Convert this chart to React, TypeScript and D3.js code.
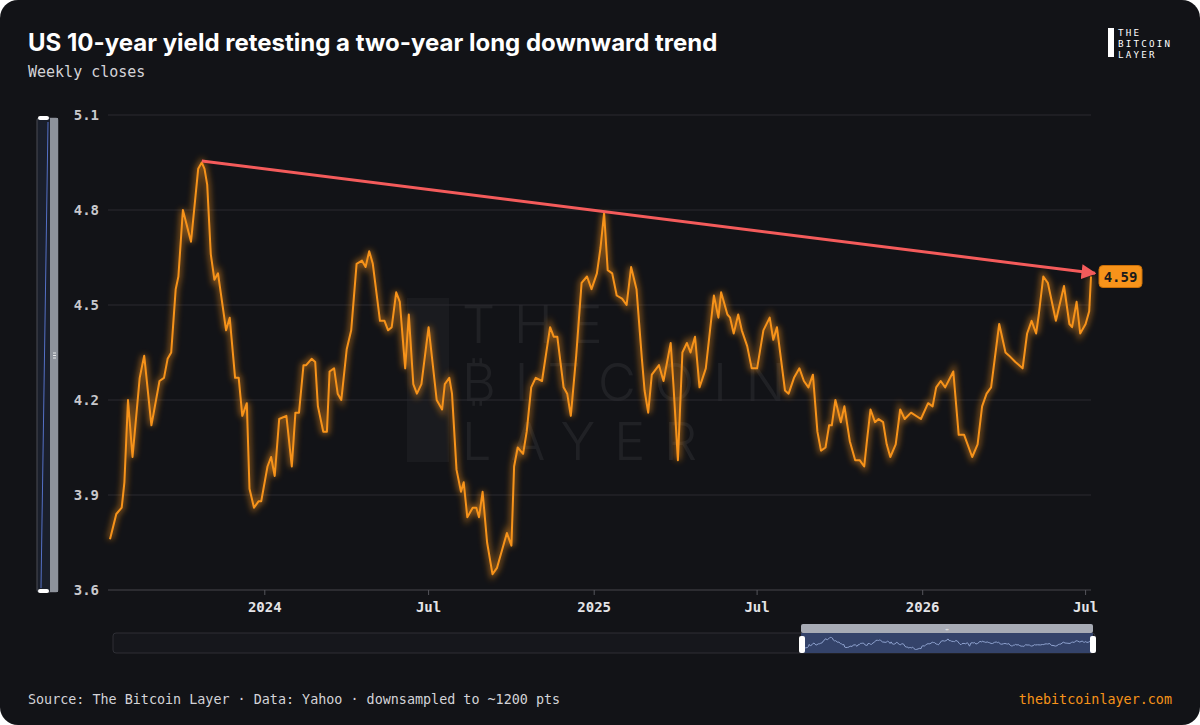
import React from "react";
import * as d3 from "d3";

// weekly closes
const dates = [
  "2023-07-13", "2023-07-20", "2023-07-26", "2023-07-29", "2023-08-02", "2023-08-07", "2023-08-15", "2023-08-20",
  "2023-08-28", "2023-09-06", "2023-09-11", "2023-09-15", "2023-09-19", "2023-09-24", "2023-09-27", "2023-10-02",
  "2023-10-11", "2023-10-19", "2023-10-23", "2023-10-26", "2023-10-29", "2023-11-02", "2023-11-06", "2023-11-10",
  "2023-11-19", "2023-11-23", "2023-11-29", "2023-12-03", "2023-12-07", "2023-12-12", "2023-12-15", "2023-12-20",
  "2023-12-25", "2023-12-28", "2024-01-04", "2024-01-08", "2024-01-12", "2024-01-17", "2024-01-25", "2024-01-31",
  "2024-02-04", "2024-02-08", "2024-02-13", "2024-02-16", "2024-02-22", "2024-02-26", "2024-02-29", "2024-03-06",
  "2024-03-10", "2024-03-13", "2024-03-18", "2024-03-22", "2024-03-26", "2024-04-01", "2024-04-06", "2024-04-12",
  "2024-04-18", "2024-04-22", "2024-04-26", "2024-04-30", "2024-05-08", "2024-05-13", "2024-05-17", "2024-05-21",
  "2024-05-26", "2024-05-30", "2024-06-05", "2024-06-09", "2024-06-14", "2024-06-18", "2024-06-23", "2024-07-01",
  "2024-07-10", "2024-07-16", "2024-07-19", "2024-07-24", "2024-07-27", "2024-08-01", "2024-08-06", "2024-08-09",
  "2024-08-13", "2024-08-19", "2024-08-23", "2024-08-26", "2024-08-30", "2024-09-04", "2024-09-10", "2024-09-15",
  "2024-09-20", "2024-09-26", "2024-10-01", "2024-10-04", "2024-10-08", "2024-10-14", "2024-10-18", "2024-10-23",
  "2024-10-28", "2024-11-04", "2024-11-13", "2024-11-17", "2024-11-21", "2024-11-28", "2024-12-02", "2024-12-06",
  "2024-12-12", "2024-12-18", "2024-12-24", "2024-12-29", "2025-01-04", "2025-01-08", "2025-01-12", "2025-01-16",
  "2025-01-21", "2025-01-26", "2025-02-01", "2025-02-06", "2025-02-11", "2025-02-17", "2025-02-23", "2025-02-26",
  "2025-03-02", "2025-03-06", "2025-03-14", "2025-03-19", "2025-03-27", "2025-03-30", "2025-04-04", "2025-04-09",
  "2025-04-14", "2025-04-18", "2025-04-23", "2025-04-28", "2025-05-05", "2025-05-14", "2025-05-19", "2025-05-22",
  "2025-05-29", "2025-06-01", "2025-06-05", "2025-06-10", "2025-06-14", "2025-06-20", "2025-06-25", "2025-07-01",
  "2025-07-08", "2025-07-15", "2025-07-19", "2025-07-23", "2025-08-01", "2025-08-05", "2025-08-11", "2025-08-17",
  "2025-08-22", "2025-08-27", "2025-09-01", "2025-09-06", "2025-09-10", "2025-09-15", "2025-09-19", "2025-09-22",
  "2025-09-26", "2025-10-02", "2025-10-06", "2025-10-12", "2025-10-18", "2025-10-23", "2025-10-28", "2025-10-31",
  "2025-11-04", "2025-11-09", "2025-11-13", "2025-11-18", "2025-11-22", "2025-11-26", "2025-12-02", "2025-12-07",
  "2025-12-12", "2025-12-19", "2025-12-30", "2026-01-07", "2026-01-12", "2026-01-16", "2026-01-21", "2026-01-26",
  "2026-02-04", "2026-02-10", "2026-02-16", "2026-02-25", "2026-03-03", "2026-03-08", "2026-03-13", "2026-03-18",
  "2026-03-27", "2026-04-03", "2026-04-07", "2026-04-14", "2026-04-22", "2026-04-27", "2026-05-02", "2026-05-07",
  "2026-05-10", "2026-05-15", "2026-05-20", "2026-05-29", "2026-06-07", "2026-06-13", "2026-06-16", "2026-06-21",
  "2026-06-25", "2026-07-01", "2026-07-05", "2026-07-07",
];

const yields = [
  3.76, 3.84, 3.86, 3.94, 4.2, 4.02, 4.27, 4.34,
  4.12, 4.26, 4.27, 4.33, 4.35, 4.55, 4.59, 4.8,
  4.7, 4.93, 4.95, 4.93, 4.88, 4.66, 4.58, 4.6,
  4.42, 4.46, 4.27, 4.27, 4.15, 4.19, 3.92, 3.86,
  3.88, 3.88, 3.99, 4.02, 3.96, 4.14, 4.15, 3.99,
  4.16, 4.16, 4.31, 4.31, 4.33, 4.32, 4.18, 4.1,
  4.1, 4.29, 4.3, 4.22, 4.2, 4.36, 4.42, 4.63,
  4.64, 4.62, 4.67, 4.63, 4.45, 4.45, 4.42, 4.43,
  4.54, 4.51, 4.3, 4.47, 4.25, 4.22, 4.25, 4.43,
  4.2, 4.17, 4.25, 4.27, 4.22, 3.98, 3.91, 3.94,
  3.83, 3.86, 3.86, 3.83, 3.91, 3.75, 3.65, 3.67,
  3.72, 3.78, 3.74, 3.99, 4.05, 4.03, 4.1, 4.24,
  4.27, 4.26, 4.43, 4.4, 4.4, 4.24, 4.22, 4.15,
  4.34, 4.57, 4.59, 4.55, 4.6, 4.68, 4.79, 4.61,
  4.6, 4.53, 4.52, 4.5, 4.62, 4.55, 4.33, 4.23,
  4.16, 4.28, 4.31, 4.26, 4.38, 4.25, 4.01, 4.35,
  4.38, 4.35, 4.4, 4.24, 4.3, 4.53, 4.46, 4.54,
  4.47, 4.46, 4.41, 4.47, 4.42, 4.37, 4.3, 4.3,
  4.42, 4.46, 4.39, 4.43, 4.23, 4.22, 4.27, 4.3,
  4.26, 4.24, 4.28, 4.1, 4.04, 4.05, 4.12, 4.12,
  4.2, 4.13, 4.18, 4.07, 4.01, 4.01, 3.99, 4.07,
  4.17, 4.13, 4.14, 4.13, 4.06, 4.02, 4.06, 4.17,
  4.14, 4.16, 4.14, 4.19, 4.18, 4.24, 4.26, 4.24,
  4.29, 4.09, 4.09, 4.02, 4.06, 4.18, 4.22, 4.24,
  4.44, 4.35, 4.34, 4.32, 4.3, 4.41, 4.45, 4.41,
  4.47, 4.59, 4.57, 4.45, 4.56, 4.44, 4.43, 4.51,
  4.41, 4.44, 4.48, 4.59,
];

const yTicks = [3.6, 3.9, 4.2, 4.5, 4.8, 5.1];
const xTickDates = ["2024-01-01", "2024-07-01", "2025-01-01", "2025-07-01", "2026-01-01", "2026-07-01"];
const xTickLabels = ["2024", "Jul", "2025", "Jul", "2026", "Jul"];

// trend line: Oct 2023 peak to the latest close
const trendDates = ["2023-10-23", "2026-07-07"];
const trendValues = [4.955, 4.6];

const W = 1200;
const H = 725;
const mono = "'DejaVu Sans Mono', monospace";
const sans = "Inter, 'Noto Sans', sans-serif";
const orange = "#f7931a";

export default function App() {
  const parse = d3.timeParse("%Y-%m-%d");
  const data = dates.map((d, i) => ({ date: parse(d) as Date, value: yields[i] }));

  const x = d3
    .scaleTime()
    .domain([parse(dates[0]) as Date, parse(dates[dates.length - 1]) as Date])
    .range([110, 1091]);
  const y = d3.scaleLinear().domain([3.6, 5.1]).range([590, 115]);

  const line = d3
    .line<{ date: Date; value: number }>()
    .x((d) => x(d.date))
    .y((d) => y(d.value));
  const path = line(data) || "";

  // mini series inside the zoom window of the bottom slider
  const mx = d3.scaleTime().domain(x.domain()).range([804, 1090]);
  const my = d3.scaleLinear().domain([3.6, 5.1]).range([650, 636]);
  const miniPath =
    d3
      .line<{ date: Date; value: number }>()
      .x((d) => mx(d.date))
      .y((d) => my(d.value))(data) || "";

  const tx1 = x(parse(trendDates[0]) as Date);
  const ty1 = y(trendValues[0]);
  const tx2 = x(parse(trendDates[1]) as Date) + 4;
  const ty2 = y(trendValues[1]);

  const last = data[data.length - 1];
  const lastY = y(last.value);

  return (
    <div style={{ position: "absolute", left: 0, top: 0, width: W, height: H, background: "#fff" }}>
      <svg width={W} height={H} viewBox={`0 0 ${W} ${H}`} style={{ display: "block" }}>
        <defs>
          <filter id="glow" x="-10%" y="-10%" width="120%" height="120%">
            <feGaussianBlur stdDeviation="3" />
          </filter>
          <marker id="arrow" viewBox="0 0 10 10" refX="9" refY="5" markerWidth="5" markerHeight="5" orient="auto">
            <path d="M0,0 L10,5 L0,10 z" fill="#f45b5b" />
          </marker>
        </defs>
        <rect x={0} y={0} width={W} height={H} rx={18} fill="#121317" />

        {/* header */}
        <text x={28} y={51} fill="#fff" fontFamily={sans} fontWeight={700} fontSize={24}>
          US 10-year yield retesting a two-year long downward trend
        </text>
        <text x={28} y={77} fill="#d4d4d8" fontFamily={mono} fontSize={15}>
          Weekly closes
        </text>

        {/* logo */}
        <rect x={1108} y={28} width={6} height={29} fill="#fff" />
        <g fill="#fff" fontFamily={mono} fontSize={9.2} letterSpacing={2.2}>
          <text x={1118} y={36}>THE</text>
          <text x={1118} y={47}>BITCOIN</text>
          <text x={1118} y={58}>LAYER</text>
        </g>

        {/* watermark */}
        <rect x={407} y={298} width={42} height={164} fill="#fff" opacity={0.035} />
        <g opacity={0.06} fill="#fff" fontFamily={sans} fontWeight={300} fontSize={52} letterSpacing={19}>
          <text x={462} y={343}>THE</text>
          <text x={462} y={401}>₿ITCOIN</text>
          <text x={462} y={460}>LAYER</text>
        </g>

        {/* grid and y labels */}
        {yTicks.map((t) => (
          <g key={t}>
            <line x1={108} x2={1091} y1={y(t)} y2={y(t)} stroke="#2a2b31" strokeWidth={1} />
            <text
              x={99}
              y={y(t) + 5}
              textAnchor="end"
              fill="#c8c8cc"
              fontFamily={mono}
              fontWeight={700}
              fontSize={14}
            >
              {t.toFixed(1)}
            </text>
          </g>
        ))}

        {/* x axis */}
        <line x1={108} x2={1091} y1={590} y2={590} stroke="#3a3b41" />
        {xTickDates.map((d, i) => {
          const px = x(parse(d) as Date);
          return (
            <g key={d}>
              <line x1={px} x2={px} y1={590} y2={595} stroke="#55565c" />
              <text
                x={px}
                y={612}
                textAnchor="middle"
                fill="#e4e4e7"
                fontFamily={mono}
                fontWeight={700}
                fontSize={14}
              >
                {xTickLabels[i]}
              </text>
            </g>
          );
        })}

        {/* series */}
        <path d={path} fill="none" stroke={orange} strokeWidth={5} opacity={0.55} filter="url(#glow)" />
        <path d={path} fill="none" stroke={orange} strokeWidth={2} strokeLinejoin="round" />

        {/* trend line */}
        <line
          x1={tx1}
          y1={ty1}
          x2={tx2}
          y2={ty2}
          stroke="#f45b5b"
          strokeWidth={3}
          markerEnd="url(#arrow)"
        />

        {/* last value label */}
        <rect x={1099} y={lastY - 11} width={43} height={22} rx={4} fill={orange} stroke="#c96f08" />
        <text
          x={1120.5}
          y={lastY + 5}
          textAnchor="middle"
          fill="#1a1a1a"
          fontFamily={mono}
          fontWeight={700}
          fontSize={14}
        >
          {last.value.toFixed(2)}
        </text>

        {/* left vertical zoom slider */}
        <rect x={37} y={118} width={21} height={474} rx={2} fill="#1a1f2b" stroke="#4a4d55" />
        <rect x={50} y={118} width={8} height={474} fill="#8e939c" />
        <line x1={48} y1={122} x2={41} y2={588} stroke="#5470c6" strokeWidth={1} />
        <rect x={38} y={116} width={11} height={4} rx={2} fill="#fff" />
        <rect x={38} y={589} width={11} height={4} rx={2} fill="#fff" />
        <g stroke="#fff" strokeWidth={0.8}>
          <line x1={53} x2={56} y1={353} y2={353} />
          <line x1={53} x2={56} y1={355.5} y2={355.5} />
          <line x1={53} x2={56} y1={358} y2={358} />
        </g>

        {/* bottom zoom slider */}
        <rect x={113} y={633} width={982} height={20} rx={3} fill="#16171c" stroke="#2e2f35" />
        <rect x={801} y={633} width={292} height={20} fill="#34436a" />
        <path d={miniPath} fill="none" stroke="#8fa3d0" strokeWidth={1} />
        <rect x={801} y={624} width={292} height={9} rx={2} fill="#a7abb5" />
        <text x={947} y={631} textAnchor="middle" fill="#fff" fontFamily={mono} fontSize={5}>
          ↔
        </text>
        <rect x={799} y={636} width={6} height={17} rx={2} fill="#fff" />
        <rect x={1090} y={636} width={6} height={17} rx={2} fill="#fff" />

        {/* footer */}
        <text x={28} y={704} fill="#d4d4d8" fontFamily={mono} fontSize={13.4}>
          Source: The Bitcoin Layer · Data: Yahoo · downsampled to ~1200 pts
        </text>
        <text x={1172} y={704} textAnchor="end" fill={orange} fontFamily={mono} fontSize={13.4}>
          thebitcoinlayer.com
        </text>
      </svg>
    </div>
  );
}
